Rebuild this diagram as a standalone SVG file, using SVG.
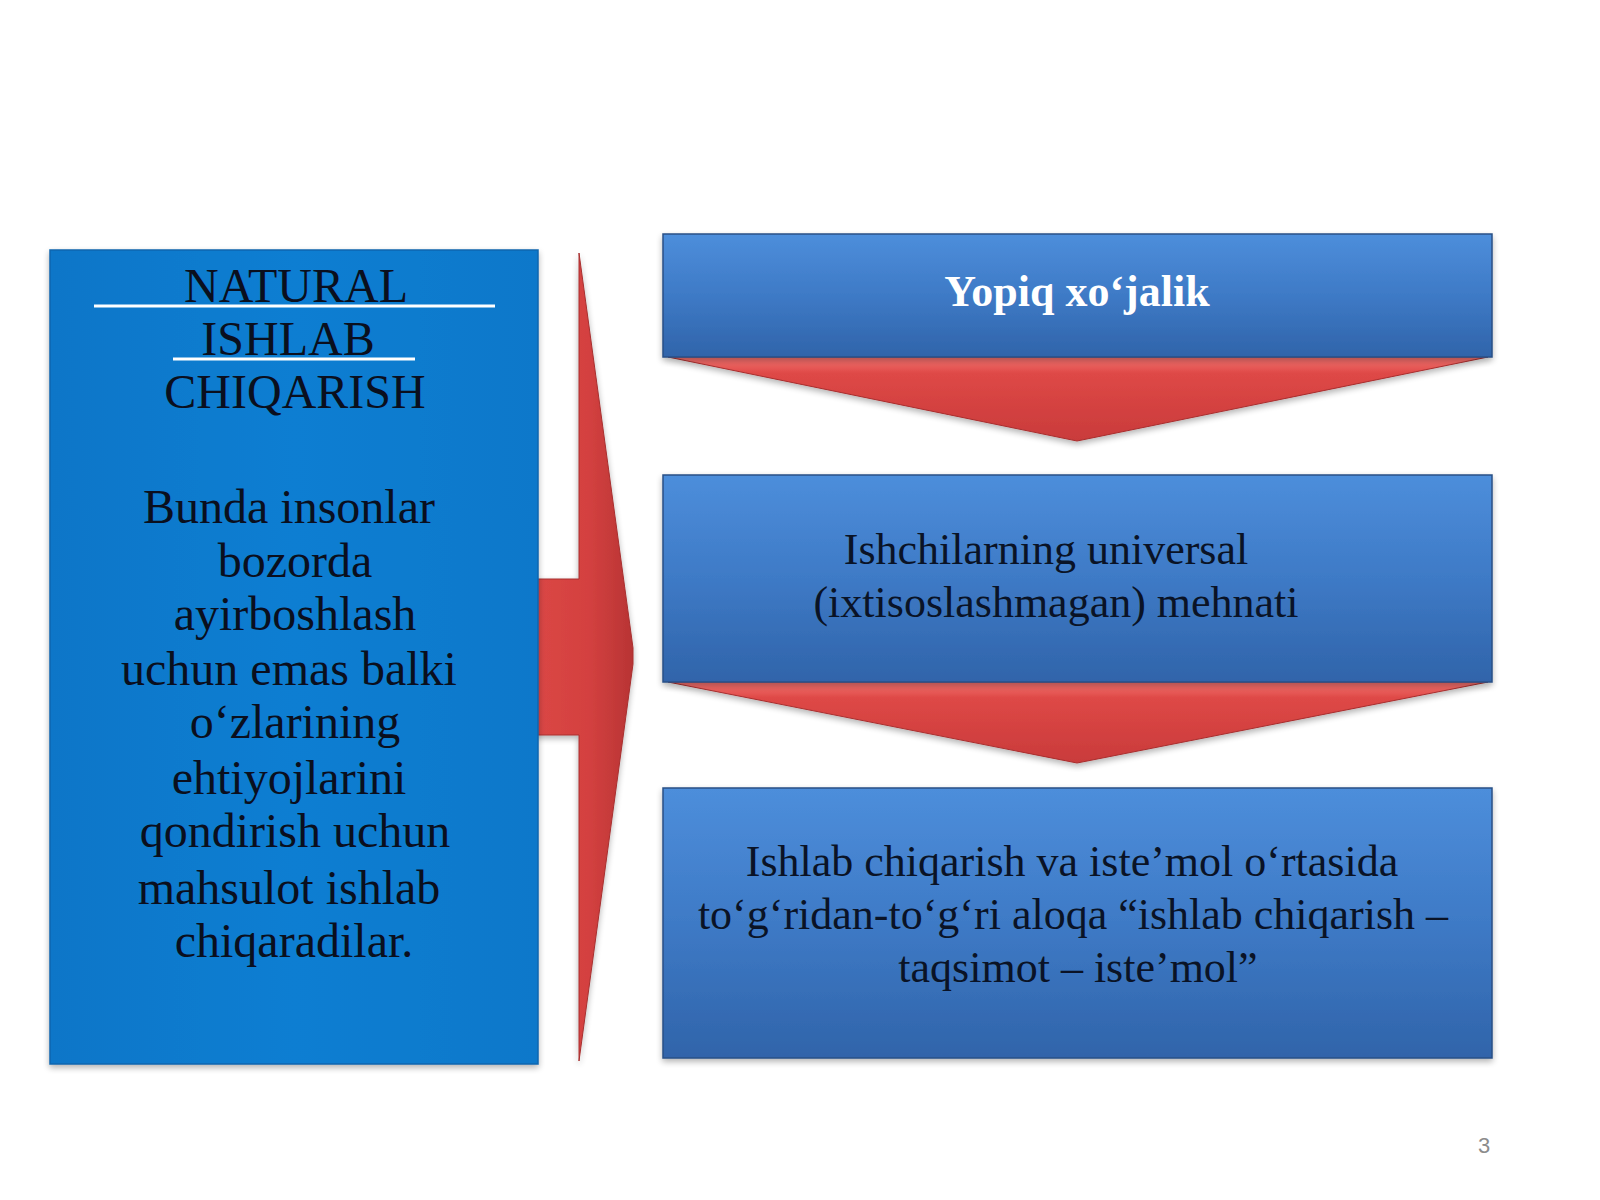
<svg xmlns="http://www.w3.org/2000/svg" width="1600" height="1200" viewBox="0 0 1600 1200">
  <style>
    .serif { font-family: "Liberation Serif", "Times New Roman", serif; }
    .ltxt { font-size: 48px; fill: #0a0f1e; text-anchor: middle; }
    .rtxt { font-size: 44px; fill: #0a1326; text-anchor: middle; }
    .rbox { fill: url(#blueGrad); stroke: #2a4f86; stroke-width: 1.5; }
    .tri { fill: url(#redGrad); stroke: #a82e2e; stroke-width: 1; }
  </style>
  <defs>
    <linearGradient id="blueGrad" x1="0" y1="0" x2="0" y2="1">
      <stop offset="0" stop-color="#4d8edb"/>
      <stop offset="0.5" stop-color="#3e7ac6"/>
      <stop offset="1" stop-color="#3064aa"/>
    </linearGradient>
    <linearGradient id="leftGrad" x1="0" y1="0" x2="1" y2="0">
      <stop offset="0" stop-color="#0a76c8"/>
      <stop offset="0.5" stop-color="#0b7ed2"/>
      <stop offset="1" stop-color="#0a78ca"/>
    </linearGradient>
    <linearGradient id="redGrad" x1="0" y1="0" x2="0" y2="1">
      <stop offset="0" stop-color="#f47470"/>
      <stop offset="0.2" stop-color="#de4846"/>
      <stop offset="1" stop-color="#c93b3b"/>
    </linearGradient>
    <linearGradient id="bigRed" x1="0" y1="0" x2="1" y2="0">
      <stop offset="0" stop-color="#dc4846"/>
      <stop offset="0.6" stop-color="#d44140"/>
      <stop offset="1" stop-color="#b83434"/>
    </linearGradient>
    <filter id="shadow" x="-5%" y="-5%" width="110%" height="115%">
      <feGaussianBlur in="SourceAlpha" stdDeviation="3"/>
      <feOffset dx="0" dy="3" result="b"/>
      <feComponentTransfer><feFuncA type="linear" slope="0.3"/></feComponentTransfer>
      <feMerge><feMergeNode/><feMergeNode in="SourceGraphic"/></feMerge>
    </filter>
  </defs>

  <rect x="0" y="0" width="1600" height="1200" fill="#ffffff"/>

  <g id="connectors">
    <polygon id="bigArrow" points="520,579 579,579 579,253 633,648 633,664 579,1061 579,735 520,735" fill="url(#bigRed)" stroke="#a83030" stroke-width="1" filter="url(#shadow)"/>
    <polygon id="arrow1" class="tri" points="668,357 1488,357 1077,441" filter="url(#shadow)"/>
    <polygon id="arrow2" class="tri" points="668,682 1488,682 1077,763" filter="url(#shadow)"/>
  </g>

  <g id="node-left">
    <rect x="50" y="250" width="488" height="814" fill="url(#leftGrad)" stroke="#0a66ae" stroke-width="1.5" filter="url(#shadow)"/>
    <g class="serif ltxt">
      <text x="296" y="302">NATURAL</text>
      <text x="288" y="355">ISHLAB</text>
      <text x="295" y="408">CHIQARISH</text>
      <text x="289" y="523">Bunda insonlar</text>
      <text x="295" y="577">bozorda</text>
      <text x="295" y="630">ayirboshlash</text>
      <text x="289" y="685">uchun emas balki</text>
      <text x="295" y="738">o‘zlarining</text>
      <text x="289" y="794">ehtiyojlarini</text>
      <text x="295" y="847">qondirish uchun</text>
      <text x="289" y="904">mahsulot ishlab</text>
      <text x="294" y="957">chiqaradilar.</text>
    </g>
    <line x1="94" y1="306" x2="495" y2="306" stroke="#ffffff" stroke-width="3"/>
    <line x1="173" y1="359" x2="415" y2="359" stroke="#ffffff" stroke-width="3"/>
  </g>

  <g id="node-yopiq">
    <rect class="rbox" x="663" y="234" width="829" height="123" filter="url(#shadow)"/>
    <text class="serif" x="1077" y="306" font-size="44" font-weight="bold" fill="#ffffff" text-anchor="middle">Yopiq xo‘jalik</text>
  </g>

  <g id="node-ishchilar">
    <rect class="rbox" x="663" y="475" width="829" height="207" filter="url(#shadow)"/>
    <text class="serif rtxt" x="1046" y="564">Ishchilarning universal</text>
    <text class="serif rtxt" x="1056" y="617">(ixtisoslashmagan) mehnati</text>
  </g>

  <g id="node-aloqa">
    <rect class="rbox" x="663" y="788" width="829" height="270" filter="url(#shadow)"/>
    <text class="serif rtxt" x="1072" y="876">Ishlab chiqarish va iste’mol o‘rtasida</text>
    <text class="serif rtxt" x="1073" y="929">to‘g‘ridan-to‘g‘ri aloqa “ishlab chiqarish –</text>
    <text class="serif rtxt" x="1078" y="982">taqsimot – iste’mol”</text>
  </g>

  <text x="1484" y="1153" font-family="Liberation Sans, Arial, sans-serif" font-size="22" fill="#8c8c8c" text-anchor="middle">3</text>
</svg>
